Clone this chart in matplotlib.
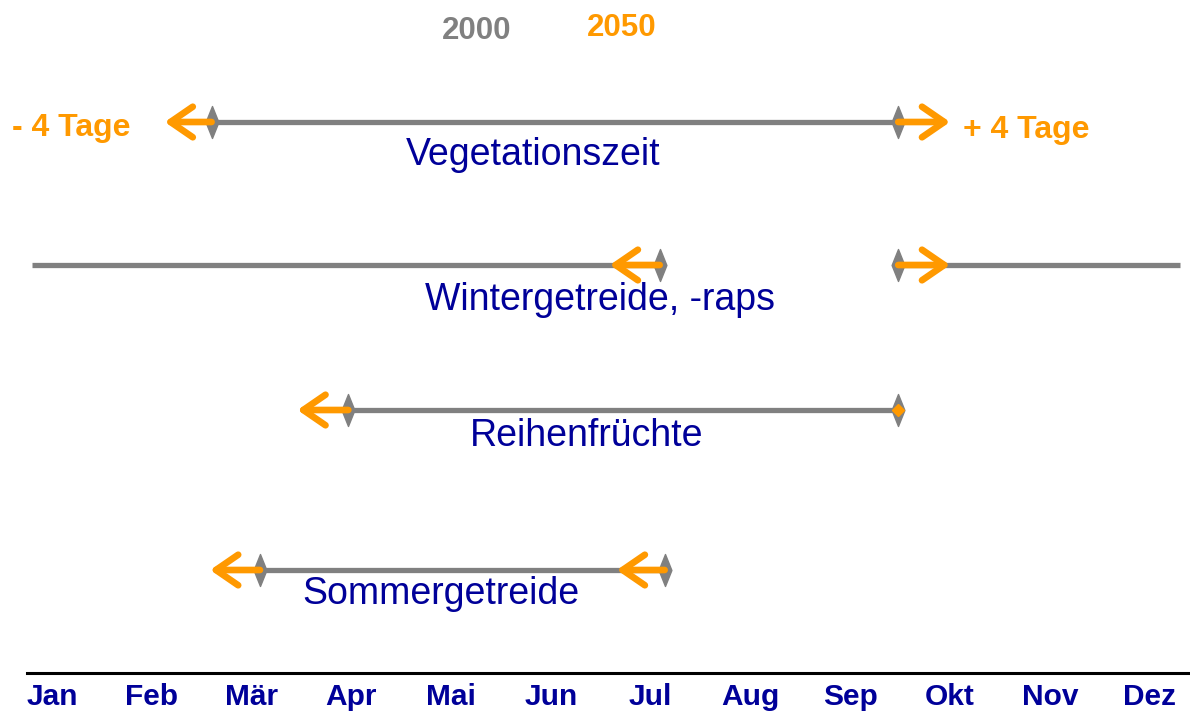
import matplotlib.pyplot as plt
from matplotlib.path import Path

plt.rcParams['font.family'] = ['Liberation Sans', 'DejaVu Sans']

# Monate (Achse in Monatseinheiten, Jan = 0..1)
months = ["Jan", "Feb", "Mär", "Apr", "Mai", "Jun",
          "Jul", "Aug", "Sep", "Okt", "Nov", "Dez"]

# Zeiträume heute (2000) und Verschiebung bis 2050 (in Monaten)
crops = ["Vegetationszeit", "Wintergetreide, -raps", "Reihenfrüchte", "Sommergetreide"]
season_start = [2.10, 8.98, 3.47, 2.585]
season_end = [8.98, 6.59, 8.98, 6.64]
start_shift = [-0.47, 0.52, -0.51, -0.50]
end_shift = [0.52, -0.50, 0.0, -0.48]
year_begin, year_end = 0.30, 11.80

# Layout
row_y = [122, 265, 410, 570]
label_x = [5.32, 5.99, 5.86, 4.40]
label_dy = [33, 35, 26, 24]

gray = "#808080"
orange = "#FF9900"
blue = "#000099"

fig = plt.figure(figsize=(11.9, 7.11), dpi=100)
ax = fig.add_axes([27 / 1190, 38 / 711, 1 - 27 / 1190, 673 / 711])
ax.set_xlim((27 - 2) / 99.8, (1190 - 2) / 99.8)
ax.set_ylim(673, 0)

for s in ["top", "left", "right"]:
    ax.spines[s].set_visible(False)
ax.spines["bottom"].set_linewidth(2.2)
ax.spines["bottom"].set_color("black")
ax.set_yticks([])
ax.set_xticks([i + 0.5 for i in range(12)])
ax.set_xticklabels(months, fontsize=21.5, fontweight="bold", color=blue)
ax.tick_params(axis="x", length=0, pad=7.5)

diamond = Path([(0, 1), (0.4, 0), (0, -1), (-0.4, 0), (0, 1)],
               [Path.MOVETO, Path.LINETO, Path.LINETO, Path.LINETO, Path.CLOSEPOLY])

arrow = dict(arrowstyle="->,head_length=0.8,head_width=0.55", color=orange,
             lw=4.8, mutation_scale=20, shrinkA=0, shrinkB=0,
             capstyle="round", joinstyle="round")

for i, name in enumerate(crops):
    y = row_y[i]
    a, b = season_start[i], season_end[i]
    if a < b:
        segs = [(a, b)]
    else:
        segs = [(year_begin, b), (a, year_end)]
    for x0, x1 in segs:
        ax.plot([x0, x1], [y, y], color=gray, lw=3.8, solid_capstyle="butt", zorder=2)
    ax.plot([a, b], [y, y], ls="none", marker=diamond, ms=23, color=gray, zorder=3)
    for x, d in [(a, start_shift[i]), (b, end_shift[i])]:
        if d == 0:
            ax.plot([x], [y], marker="D", ms=6, color=orange, ls="none", zorder=4)
        else:
            ax.annotate("", xy=(x + d, y), xytext=(x, y), arrowprops=arrow, zorder=4)
    ax.text(label_x[i], y + label_dy[i], name, fontsize=27, color=blue,
            ha="center", va="center")

ax.text(4.76, 31, "2000", fontsize=22.5, fontweight="bold", color=gray, ha="center", va="center")
ax.text(6.21, 28, "2050", fontsize=22.5, fontweight="bold", color=orange, ha="center", va="center")
ax.text(0.10, 128, "- 4 Tage", fontsize=23, fontweight="bold", color=orange,
        ha="left", va="center", clip_on=False)
ax.text(9.63, 130, "+ 4 Tage", fontsize=23, fontweight="bold", color=orange,
        ha="left", va="center", clip_on=False)

plt.savefig("out.png", dpi=100)
